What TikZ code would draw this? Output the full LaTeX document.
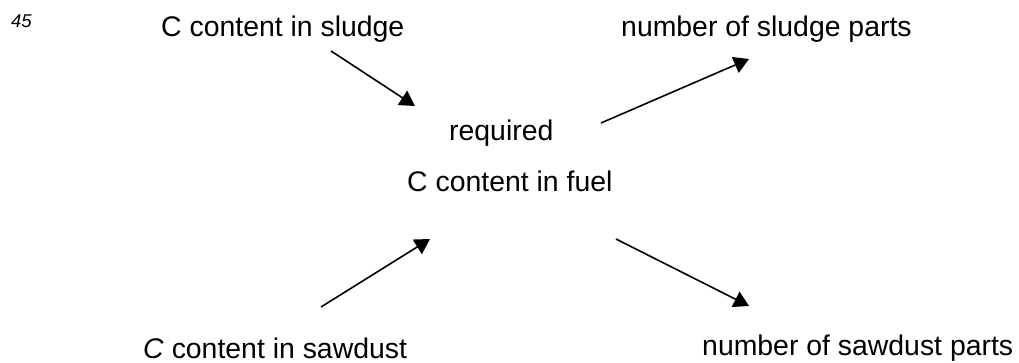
\documentclass[tikz,border=0pt]{standalone}
\usepackage{fontspec}
\setmainfont{Liberation Sans}
\usetikzlibrary{arrows.meta}
\begin{document}
\begin{tikzpicture}[x=1pt,y=-1pt,
  txt/.style={anchor=base west,inner sep=0pt,font=\fontsize{28.4}{34}\selectfont},
  flow/.style={line width=1.6pt,-{Triangle[length=15pt,width=17pt]}}]
\useasboundingbox (0,0) rectangle (1019,363);

% figure number
\node[anchor=base west,inner sep=0pt,font=\fontsize{18.5}{22}\selectfont\itshape] (num) at (11,28) {45};

% quantities
\node[txt] (csludge) at (161,37) {C content in sludge};
\node[txt] (nsludge) at (621,37) {number of sludge parts};
\node[txt] (req)     at (449,141) {required};
\node[txt] (cfuel)   at (407,192) {C content in fuel};
\node[txt] (csaw)    at (143,358) {\textit{C} content in sawdust};
\node[txt] (nsaw)    at (702,355) {number of sawdust parts};

% arrow end points
\coordinate (a1s) at (331,51);  \coordinate (a1e) at (415,106);
\coordinate (a2s) at (601,123); \coordinate (a2e) at (749,59);
\coordinate (a3s) at (321,307); \coordinate (a3e) at (430,239);
\coordinate (a4s) at (616,239); \coordinate (a4e) at (749,306);

\draw[flow] (a1s) -- (a1e);
\draw[flow] (a2s) -- (a2e);
\draw[flow] (a3s) -- (a3e);
\draw[flow] (a4s) -- (a4e);
\end{tikzpicture}
\end{document}
